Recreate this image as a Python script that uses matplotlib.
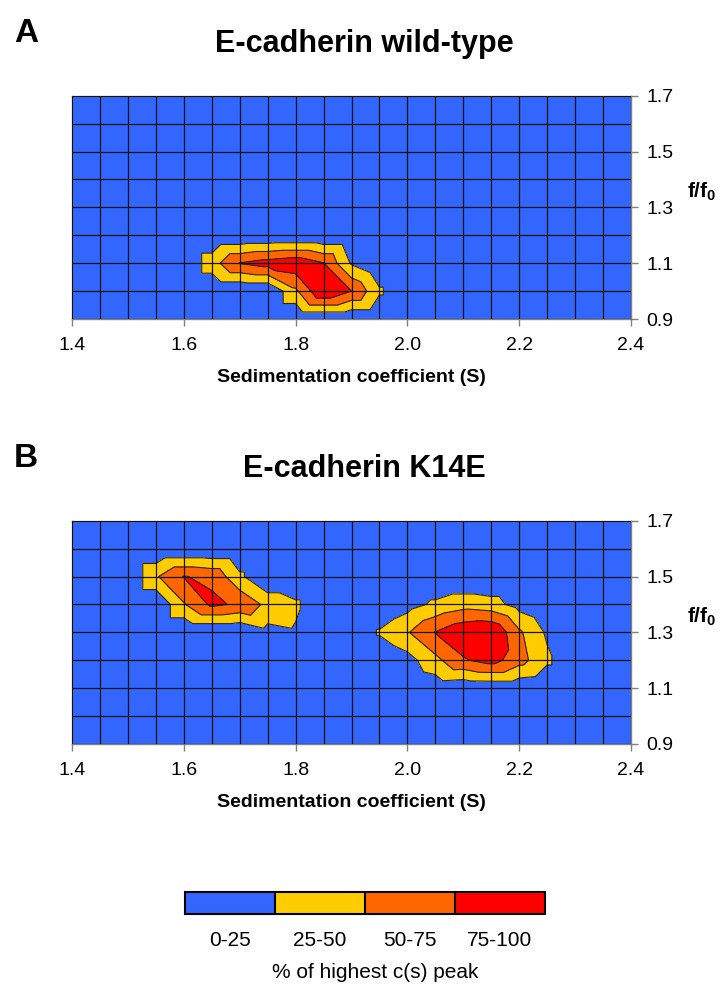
import numpy as np
import matplotlib

matplotlib.use('Agg')
import matplotlib.pyplot as plt
import matplotlib.tri as mtri

plt.rcParams['font.family'] = ['Liberation Sans', 'DejaVu Sans']
plt.rcParams['mathtext.fontset'] = 'custom'
plt.rcParams['mathtext.rm'] = 'Liberation Sans'
plt.rcParams['mathtext.bf'] = 'Liberation Sans:bold'

# grid of the c(s, f/f0) distribution
sed = np.round(np.arange(1.4, 2.401, 0.05), 2)   # 21 columns
ff0 = np.round(np.arange(0.9, 1.701, 0.1), 1)    # 9 rows

# % of highest c(s) peak, rows go from f/f0 = 0.9 up to 1.7
wt_rows = [
    [0, 0, 0, 0, 0, 0, 0, 0, 0, 0, 0, 0, 0, 0, 0, 0, 0, 0, 0, 0, 0],
    [0, 0, 0, 0, 0, 0, 0, 0, 45, 100, 75, 29, 0, 0, 0, 0, 0, 0, 0, 0, 0],
    [0, 0, 0, 0, 0, 39, 76, 86, 93, 76, 22, 0, 0, 0, 0, 0, 0, 0, 0, 0, 0],
    [0, 0, 0, 0, 0, 0, 0, 0, 0, 0, 0, 0, 0, 0, 0, 0, 0, 0, 0, 0, 0],
    [0, 0, 0, 0, 0, 0, 0, 0, 0, 0, 0, 0, 0, 0, 0, 0, 0, 0, 0, 0, 0],
    [0, 0, 0, 0, 0, 0, 0, 0, 0, 0, 0, 0, 0, 0, 0, 0, 0, 0, 0, 0, 0],
    [0, 0, 0, 0, 0, 0, 0, 0, 0, 0, 0, 0, 0, 0, 0, 0, 0, 0, 0, 0, 0],
    [0, 0, 0, 0, 0, 0, 0, 0, 0, 0, 0, 0, 0, 0, 0, 0, 0, 0, 0, 0, 0],
    [0, 0, 0, 0, 0, 0, 0, 0, 0, 0, 0, 0, 0, 0, 0, 0, 0, 0, 0, 0, 0],
]
k14e_rows = [
    [0, 0, 0, 0, 0, 0, 0, 0, 0, 0, 0, 0, 0, 0, 0, 0, 0, 0, 0, 0, 0],
    [0, 0, 0, 0, 0, 0, 0, 0, 0, 0, 0, 0, 0, 0, 0, 0, 0, 0, 0, 0, 0],
    [0, 0, 0, 0, 0, 0, 0, 0, 0, 0, 0, 0, 0, 8, 4, 5, 5, 0, 0, 0, 0],
    [0, 0, 0, 0, 0, 0, 0, 0, 0, 0, 0, 0, 15, 43, 72, 85, 60, 30, 0, 0, 0],
    [0, 0, 0, 0, 0, 0, 0, 17, 22, 0, 0, 28, 48, 76, 95, 100, 54, 21, 0, 0, 0],
    [0, 0, 0, 0, 48, 80, 71, 43, 30, 0, 0, 0, 15, 30, 40, 35, 15, 0, 0, 0, 0],
    [0, 0, 0, 47, 76, 70, 30, 0, 0, 0, 0, 0, 0, 0, 0, 0, 0, 0, 0, 0, 0],
    [0, 0, 0, 0, 0, 0, 0, 0, 0, 0, 0, 0, 0, 0, 0, 0, 0, 0, 0, 0, 0],
    [0, 0, 0, 0, 0, 0, 0, 0, 0, 0, 0, 0, 0, 0, 0, 0, 0, 0, 0, 0, 0],
]

levels = [0, 25, 50, 75, 100]
band_colors = ['#3366ff', '#ffcc00', '#ff6600', '#ff0000']
band_labels = ['0-25', '25-50', '50-75', '75-100']
titles = ['E-cadherin wild-type', 'E-cadherin K14E']
letters = ['A', 'B']

W, H = 725.0, 985.0


def cell_triangulation(z):
    # split every grid cell along the diagonal with the larger corner sum
    ny, nx = z.shape
    X, Y = np.meshgrid(sed, ff0)
    idx = np.arange(nx * ny).reshape(ny, nx)
    tris = []
    for j in range(ny - 1):
        for i in range(nx - 1):
            bl, br, tl, tr = idx[j, i], idx[j, i + 1], idx[j + 1, i], idx[j + 1, i + 1]
            if z[j, i] + z[j + 1, i + 1] >= z[j + 1, i] + z[j, i + 1]:
                tris += [[bl, br, tr], [bl, tr, tl]]
            else:
                tris += [[bl, br, tl], [br, tr, tl]]
    return mtri.Triangulation(X.ravel(), Y.ravel(), np.array(tris))


fig = plt.figure(figsize=(7.25, 9.85), dpi=100)

ax_left, ax_right = 72, 631
panel_tops = [95.7, 520.7]
panel_h = 223.3

cs = None
for k, rows in enumerate([wt_rows, k14e_rows]):
    z = np.array(rows, dtype=float)
    top = panel_tops[k]
    ax = fig.add_axes([ax_left / W, 1 - (top + panel_h) / H, (ax_right - ax_left) / W, panel_h / H])
    tri = cell_triangulation(z)
    cs = ax.tricontourf(tri, z.ravel(), levels=levels, colors=band_colors)
    ax.tricontour(tri, z.ravel(), levels=levels[1:-1], colors='#262626', linewidths=0.8)

    ax.set_xlim(1.4, 2.4)
    ax.set_ylim(0.9, 1.7)
    xt = np.round(np.arange(1.4, 2.41, 0.2), 1)
    ax.set_xticks(xt)
    ax.set_xticklabels(['%.1f' % v for v in xt])
    ax.set_xticks(sed, minor=True)
    yt = np.round(np.arange(0.9, 1.71, 0.2), 1)
    ax.set_yticks(yt)
    ax.set_yticklabels(['%.1f' % v for v in yt])
    ax.set_yticks(ff0, minor=True)
    ax.yaxis.tick_right()
    ax.set_axisbelow(False)
    ax.grid(which='both', color='#141414', linewidth=0.9)
    ax.tick_params(which='minor', length=0)
    ax.tick_params(which='major', length=5, width=1, color='#808080', labelsize=14, direction='out')
    ax.tick_params(axis='x', pad=8)
    ax.tick_params(axis='y', pad=6)
    for sp in ax.spines.values():
        sp.set_color('#808080')
        sp.set_linewidth(1)

    fig.text(14 / W, 1 - (top - 53.7) / H, letters[k], fontsize=24, fontweight='bold',
             ha='left', va='baseline')
    fig.text(364 / W, 1 - (top - 43.7) / H, titles[k], fontsize=22, fontweight='bold',
             ha='center', va='baseline')
    fig.text(351 / W, 1 - (top + 282) / H, 'Sedimentation coefficient (S)', fontsize=14,
             fontweight='bold', ha='center', va='center')
    fig.text(687 / W, 1 - (top + 96) / H, r'$\mathbf{f/f_0}$', fontsize=15,
             ha='left', va='center')

# legend bar
cax = fig.add_axes([185 / W, 1 - 914 / H, 360 / W, 21.7 / H])
cb = fig.colorbar(cs, cax=cax, orientation='horizontal', drawedges=True)
cb.set_ticks([12.5, 37.5, 62.5, 87.5])
cb.set_ticklabels(band_labels)
cb.ax.tick_params(length=0, labelsize=15, pad=12)
cb.outline.set_edgecolor('black')
cb.outline.set_linewidth(1.5)
cb.dividers.set_color('black')
cb.dividers.set_linewidth(1.5)
fig.text(375 / W, 1 - 972 / H, '% of highest c(s) peak', fontsize=15, ha='center', va='center')

fig.savefig('out.png', dpi=100)
